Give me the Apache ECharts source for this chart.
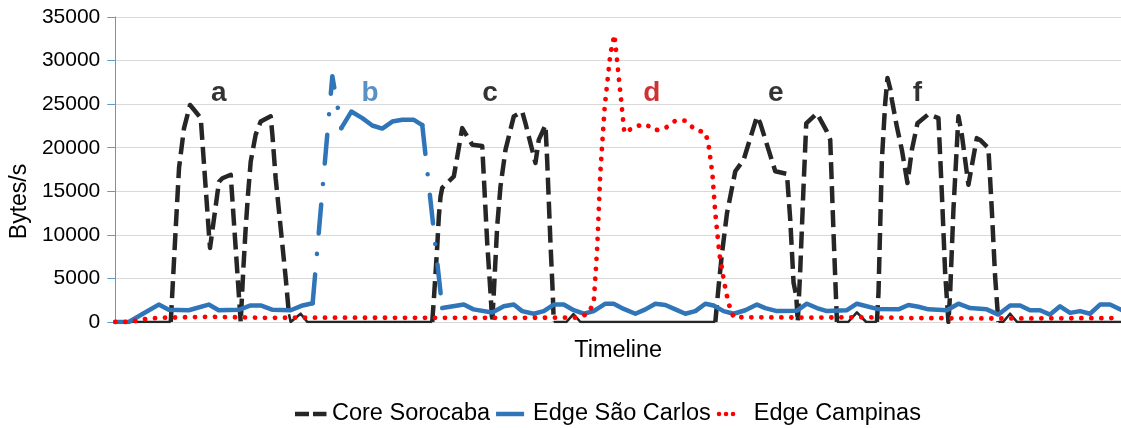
<!DOCTYPE html>
<html>
<head>
<meta charset="utf-8">
<script src="https://cdn.jsdelivr.net/npm/echarts@6/dist/echarts.min.js"></script>
<style>
html,body{margin:0;padding:0;background:#fff;}
#chart{width:1121px;height:428px;}
</style>
</head>
<body>
<div id="chart"></div>
<script>
// ---- Data (time in seconds along the timeline, values in Bytes/s) ----
const coreTime = [0, 55.5, 60.5, 63.8, 68.8, 74.8, 78.8, 85.5, 93.8, 94.8, 103.8, 107.2, 115.5, 125.5, 128.2, 130.5, 132.8, 135.5, 140.5, 145.5, 155.5, 157.2, 160.5, 165.5, 170.5, 173.8, 175.5, 185.5, 192.2,
  317.2, 318.8, 320.5, 322.2, 323.8, 325.5, 327.2, 338.8, 347.2, 357.2, 367.2, 368.8, 372.2, 375.5, 377.2, 378.8, 382.2, 385.5, 390.5, 398.8, 407.2, 410.5, 420.5, 423.8, 430.5, 432.2, 435.5, 437.8, 438.8, 451.5, 458.5, 465.5,
  600.5, 603.8, 607.2, 612.2, 620.5, 628.8, 642.2, 645.5, 660.5, 672.2, 675.5, 678.8, 681.5, 683, 685.5, 688.8, 691.5, 702.2, 712.2, 715.5, 718.8, 722.2, 733.5, 742.2, 751.5,
  762.2, 763.8, 765.5, 767.2, 770.5, 772.8, 775.5, 777.2, 782.2, 787.2, 792.8, 797.2, 802.8, 813.8, 823.8, 827.2, 830.5, 833.8, 835.5, 838.8, 842.2, 843.8, 847.2, 853.8, 862.2, 865.5, 873.8, 877.2, 880.5, 883.8, 888.5, 895.5, 902.5, 1006.5];
const coreBytes = [0, 0, 10800, 17700, 22250, 24900, 24350, 23400, 10000, 8500, 16100, 16500, 16900, 0, 6200, 10800, 14600, 18400, 21500, 23000, 23600, 21500, 16500, 10800, 5100, 900, 0, 950, 0,
  0, 2600, 5600, 8700, 12100, 14400, 15400, 16700, 22250, 20350, 20200, 16700, 9100, 3350, 0, 3350, 11000, 15550, 19750, 23600, 24150, 22800, 18250, 20900, 22600, 18600, 9100, 3350, 0, 0, 900, 0,
  0, 4100, 7900, 12500, 17300, 18600, 23600, 22800, 17300, 17000, 11700, 4500, 3000, 0, 6000, 15550, 22800, 23950, 21850, 20900, 10200, 0, 0, 1100, 0,
  0, 3350, 11000, 18600, 25100, 28000, 26800, 25500, 22400, 19750, 15950, 19750, 22800, 23850, 23400, 14800, 5650, 0, 3350, 12900, 20150, 23600, 21500, 15750, 21100, 20900, 19950, 12900, 5250, 0, 0, 950, 0, 0];

const carlosTime = [0, 13.5, 28.5, 43.5, 53.5, 73.5, 93.5, 103.5, 123.5, 135.5, 145.5, 157.5, 175.5, 187.5, 197.5,
  217.2, 226.2, 236.2, 247.2, 257.2, 267.2, 277.2, 287.2, 298.8, 307.2, 327.2, 348.8, 358.5, 377.2, 388.8, 398.8, 407.2, 418.8, 428.8, 438.8, 448.8, 458.8, 468.8, 478.8,
  490.5, 498.8, 508.8, 520.5, 530.5, 540.5, 550.5, 560.5, 570.5, 580.5, 590.5, 598.8, 608.8, 618.8, 630.5, 642.2, 650.5, 662.2, 682.2, 692.2, 702.2, 712.2,
  732.2, 742.2, 762.2, 783.8, 793.8, 803.8, 813.8, 832.2, 843.8, 855.5, 872.2, 883.8, 895.5, 905.5, 915.5, 925.5, 935.5, 945.5, 955.5, 965.5, 975.5, 985.5, 995.5, 1006.5];
const carlosBytes = [0, 0, 1000, 2000, 1400, 1350, 2000, 1350, 1400, 1900, 1900, 1400, 1350, 1900, 2150,
  28200, 22250, 24150, 23400, 22550, 22200, 23000, 23200, 23200, 22600, 1600, 2000, 1450, 1100, 1800, 2000, 1250, 950, 1250, 2000, 2000, 1350, 950, 1250,
  2100, 2100, 1500, 950, 1450, 2100, 1950, 1450, 950, 1250, 2100, 1900, 1250, 950, 1350, 2000, 1600, 1250, 1300, 2100, 1600, 1250,
  1350, 2100, 1500, 1450, 1950, 1750, 1450, 1350, 2100, 1600, 1450, 850, 1900, 1900, 1350, 1350, 850, 1800, 1050, 1250, 950, 2000, 2000, 1400];

const campinasTime = [0, 13.5, 23.5, 33.5, 43.5, 93.5, 150, 200, 300, 400, 460, 465.5, 473.5, 478.8, 482.2, 485.5, 489.8, 495.5, 499.5, 501.5, 503.8, 507.2, 509.5,
  520.5, 530.5, 540.5, 550.5, 560.5, 570.5, 580.5, 590.5, 593.5, 597.5, 600.5, 604.5, 609.5, 613.5, 618.8, 700, 745, 800, 880, 1006.5];
const campinasBytes = [0, 0, 200, 400, 480, 600, 480, 500, 480, 480, 500, 600, 1000, 2200, 8300, 17300, 24700, 30800, 32950, 30800, 28150, 24350, 21700,
  22450, 22700, 22000, 22250, 23100, 23100, 22050, 21750, 20500, 17100, 12500, 7900, 4500, 2200, 550, 500, 550, 450, 400, 450];

const yTicks = [0, 5000, 10000, 15000, 20000, 25000, 30000, 35000];

const markNames = ['a', 'b', 'c', 'd', 'e', 'f'];
const markTime = [103.5, 255, 375, 537, 661, 802.7];
const markBytes = [26200, 26200, 26200, 26200, 26200, 26200];

// ---- Styles ----
const FONT = '"Liberation Sans", Arial, sans-serif';
const C_CORE = '#262626', C_CARLOS = '#2f75b8', C_CAMP = '#ff0000';
const markColor = { a: '#000000', b: '#2e75b6', c: '#000000', d: '#c00000', e: '#000000', f: '#000000' };
// legend glyphs (tiny corner square keeps every icon box the same 32 px width)
const PAD = 'M31.9,4.4h0.1v0.1h-0.1Z';
const ICON_CORE = 'path://M0,0h14v4.6h-14Z M18,0h13.5v4.6h-13.5Z ' + PAD;
const ICON_CARLOS = 'path://M0,0h28v4.6h-28Z ' + PAD;
const ICON_CAMP = 'path://M0,2.3a2.3,2.3 0 1,0 4.6,0a2.3,2.3 0 1,0 -4.6,0Z M7,2.3a2.3,2.3 0 1,0 4.6,0a2.3,2.3 0 1,0 -4.6,0Z M14,2.3a2.3,2.3 0 1,0 4.6,0a2.3,2.3 0 1,0 -4.6,0Z ' + PAD;

// split a polyline into two sets of runs according to a segment predicate
function splitRuns(ts, vs, pred) {
  const yes = [], no = [];
  let lastYes = -2, lastNo = -2;
  for (let i = 0; i < ts.length - 1; i++) {
    const special = pred(vs[i], vs[i + 1]);
    const arr = special ? yes : no;
    const last = special ? lastYes : lastNo;
    if (last !== i) {
      if (arr.length) arr.push([ts[i], null]);
      arr.push([ts[i], vs[i]]);
    }
    arr.push([ts[i + 1], vs[i + 1]]);
    if (special) lastYes = i + 1; else lastNo = i + 1;
  }
  return [yes, no];
}

const [coreHigh, coreLow] = splitRuns(coreTime, coreBytes, (a, b) => Math.max(a, b) > 1500);
const [carlosJump, carlosFlat] = splitRuns(carlosTime, carlosBytes, (a, b) => Math.abs(b - a) > 5000);
const campinasData = campinasTime.map((t, i) => [t, campinasBytes[i]]);
const markData = markNames.map((n, i) => ({ name: n, value: [markTime[i], markBytes[i]], label: { color: markColor[n] } }));

const chart = echarts.init(document.getElementById('chart'), null, { renderer: 'canvas' });
chart.setOption({
  animation: false,
  backgroundColor: '#ffffff',
  grid: { left: 114, right: 0, top: 17, bottom: 106 },
  legend: {
    data: [
      { name: 'Core Sorocaba', icon: ICON_CORE, itemStyle: { color: C_CORE } },
      { name: 'Edge São Carlos', icon: ICON_CARLOS, itemStyle: { color: C_CARLOS } },
      { name: 'Edge Campinas', icon: ICON_CAMP, itemStyle: { color: C_CAMP } }
    ],
    left: 290, top: 397, itemWidth: 32, itemHeight: 14, itemGap: 6,
    textStyle: { fontSize: 23.5, color: '#000', fontFamily: FONT }
  },
  xAxis: {
    type: 'value', min: 0, max: 1006.5,
    name: 'Timeline', nameLocation: 'middle', nameGap: 17,
    nameTextStyle: { fontSize: 23.5, color: '#000', fontFamily: FONT },
    axisLine: { show: false }, axisTick: { show: false }, axisLabel: { show: false }, splitLine: { show: false }
  },
  yAxis: {
    type: 'value', min: yTicks[0], max: yTicks[yTicks.length - 1], interval: yTicks[1] - yTicks[0],
    name: 'Bytes/s', nameLocation: 'middle', nameRotate: 90, nameGap: 82,
    nameTextStyle: { fontSize: 23, color: '#000', fontFamily: FONT, padding: [0, 64, 0, 0] },
    axisLine: { show: true, lineStyle: { color: '#5b9bd5', width: 1 } },
    axisTick: { show: true, inside: false, length: 8, lineStyle: { color: '#5b9bd5', width: 1 } },
    axisLabel: { fontSize: 21, color: '#000', fontFamily: FONT, margin: 15, formatter: v => String(v) },
    splitLine: { show: true, lineStyle: { color: '#d9d9d9', width: 1 } }
  },
  series: [
    { name: 'Core Sorocaba', type: 'line', data: coreHigh, symbol: 'none', connectNulls: false,
      lineStyle: { color: C_CORE, width: 4.5, type: [17, 7], cap: 'butt', join: 'round' }, itemStyle: { color: C_CORE }, z: 2 },
    { name: 'Core Sorocaba', type: 'line', data: coreLow, symbol: 'none', connectNulls: false,
      lineStyle: { color: C_CORE, width: 2.6, type: 'solid', join: 'round' }, itemStyle: { color: C_CORE }, z: 2 },
    { name: 'Edge São Carlos', type: 'line', data: carlosFlat, symbol: 'none', connectNulls: false,
      lineStyle: { color: C_CARLOS, width: 4.5, type: 'solid', cap: 'round', join: 'round' }, itemStyle: { color: C_CARLOS }, z: 3 },
    { name: 'Edge São Carlos', type: 'line', data: carlosJump, symbol: 'none', connectNulls: false,
      lineStyle: { color: C_CARLOS, width: 4.5, type: [29, 20.5, 0.1, 20.5], cap: 'round', join: 'round' }, itemStyle: { color: C_CARLOS }, z: 3 },
    { name: 'Edge Campinas', type: 'line', data: campinasData, symbol: 'none',
      lineStyle: { color: C_CAMP, width: 4.8, type: [0.1, 9.9], cap: 'round', join: 'round' }, itemStyle: { color: C_CAMP }, z: 4 },
    { name: 'marks', type: 'scatter', data: markData, symbolSize: 0, silent: true, z: 5,
      label: { show: true, position: 'inside', formatter: '{b}', fontSize: 28, fontWeight: 'bold', fontFamily: FONT } }
  ]
});
</script>
</body>
</html>
